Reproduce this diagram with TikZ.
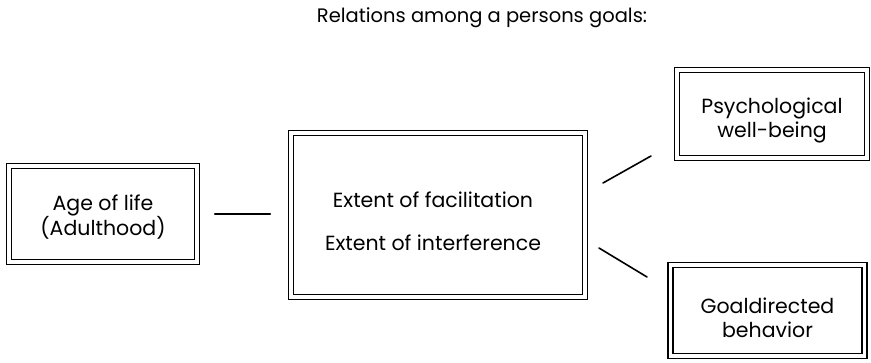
\documentclass[tikz,border=0pt]{standalone}
\usepackage{fontspec}
\setmainfont{Poppins}
\begin{document}
\begin{tikzpicture}[x=1pt,y=-1pt,
  txt/.style={font=\fontsize{20.5}{24}\selectfont, align=center, inner sep=0pt},
  dbox/.style={draw, double, double distance=3.5pt, line width=1.4pt, inner sep=0pt},
  link/.style={line width=1.6pt, line cap=round}]
\useasboundingbox (0,0) rectangle (871,363);
\node[txt, font=\fontsize{19.5}{24}\selectfont] (title) at (482,18) {Relations among a persons goals:};
\node[dbox, minimum width=188pt, minimum height=96pt] (age) at (103,214) {};
\node[txt] (agetxt) at ([yshift=-3pt]age.center) {Age of life\\(Adulthood)};
\node[dbox, minimum width=294pt, minimum height=164pt] (mid) at (438,215) {};
\node[txt] (midtxt) at ([xshift=-5pt,yshift=-6.5pt]mid.center) {Extent of facilitation\\[19pt]Extent of interference};
\node[dbox, minimum width=190pt, minimum height=88pt] (psy) at (772,114) {};
\node[txt] (psytxt) at ([yshift=-6pt]psy.center) {Psychological\\well-being};
\node[dbox, minimum width=194pt, minimum height=91pt] (goal) at (767.5,310.5) {};
\node[txt] (goaltxt) at ([yshift=-7pt]goal.center) {Goaldirected\\behavior};
\coordinate (u1) at (603,183);
\coordinate (u2) at (651,156);
\coordinate (d1) at (599,248);
\coordinate (d2) at (647,277);
\draw[link, shorten <=17pt, shorten >=20pt] (age.east) -- (age.east -| mid.west);
\draw[link] (u1) -- (u2);
\draw[link] (d1) -- (d2);
\end{tikzpicture}
\end{document}
